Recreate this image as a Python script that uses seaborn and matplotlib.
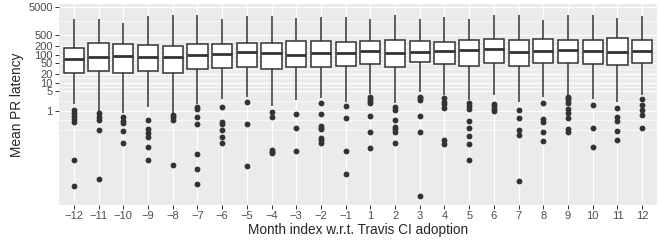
import matplotlib
matplotlib.use("Agg")
import matplotlib.pyplot as plt
import seaborn as sns
import pandas as pd
from matplotlib.ticker import FixedLocator, NullFormatter

# month index relative to Travis CI adoption
months = [-12, -11, -10, -9, -8, -7, -6, -5, -4, -3, -2, -1,
          1, 2, 3, 4, 5, 6, 7, 8, 9, 10, 11, 12]

# box statistics (latency, log scale)
whisker_high = [1840, 1880, 1320, 2470, 2620, 2620, 1880, 2470, 2410, 2000, 2280, 2280,
                1880, 2550, 1880, 2170, 1880, 2620, 2620, 1730, 2620, 2620, 2000, 2470]
q3 = [169, 268, 235, 222, 210, 247, 235, 262, 255, 308, 301, 291,
      301, 335, 308, 291, 335, 373, 335, 355, 335, 335, 405, 343]
median = [68.5, 81, 90, 85, 81, 100, 106, 128, 112, 97.5, 118, 112,
          136, 118, 125, 139, 147, 156, 128, 136, 144, 136, 128, 139]
q1 = [22.8, 26, 22.8, 26, 22.8, 30.8, 32.7, 37.3, 31.6, 36.4, 37.3, 39.5,
      45.4, 37.3, 53.5, 45.4, 40.5, 51.8, 39.5, 49.3, 51.8, 47.7, 42.9, 51.8]
whisker_low = [1.69, 0.92, 0.81, 1.39, 0.81, 1.7, 2.55, 3.16, 1.47, 2.41, 2.77, 2.1,
               3.85, 1.84, 4.77, 3.64, 2.41, 3.55, 2.1, 3.16, 3.64, 2.62, 2.1, 3.64]

outliers = [
    [1.06, 0.83, 0.65, 0.51, 0.40, 0.017, 0.002],
    [0.81, 0.61, 0.47, 0.20, 0.0035],
    [0.61, 0.44, 0.37, 0.19, 0.069],
    [0.47, 0.22, 0.156, 0.118, 0.052, 0.017],
    [0.70, 0.58, 0.47, 0.0112],
    [1.3, 1.15, 0.60, 0.335, 0.028, 0.0085, 0.0025],
    [1.36, 0.385, 0.335, 0.20, 0.118, 0.072],
    [2.1, 0.335, 0.0109],
    [0.88, 0.58, 0.039, 0.034, 0.030],
    [0.76, 0.24, 0.035],
    [1.93, 0.78, 0.29, 0.247, 0.217, 0.109, 0.09, 0.072],
    [1.51, 0.535, 0.035, 0.0056],
    [3.0, 2.55, 2.17, 1.84, 0.66, 0.178, 0.048],
    [1.39, 1.06, 0.47, 0.27, 0.217, 0.178, 0.069],
    [3.0, 2.73, 2.41, 0.66, 0.178, 0.00092],
    [2.77, 2.1, 1.73, 1.22, 0.09, 0.065],
    [1.93, 1.47, 1.12, 0.42, 0.235, 0.122, 0.066, 0.017],
    [1.73, 1.47, 1.18, 0.95],
    [1.03, 0.535, 0.21, 0.136, 0.0032],
    [1.84, 0.51, 0.40, 0.169, 0.081],
    [3.16, 2.73, 2.41, 1.84, 1.15, 0.85, 0.535, 0.22, 0.169],
    [1.6, 0.235, 0.05],
    [1.28, 0.61, 0.44, 0.19, 0.092],
    [2.55, 1.56, 1.06, 0.70, 0.24],
]

y_breaks = [1, 5, 10, 20, 50, 100, 200, 500, 5000]
y_minor = [0.2, 0.447, 2.236, 7.07, 14.14, 31.6, 70.7, 141, 316, 1581]

labels = [str(m).replace("-", "\u2212") for m in months]

# five values per month -> percentiles 0/25/50/75/100 hit the stats exactly
box_rows = []
for lab, lo, a, m, b, hi in zip(labels, whisker_low, q1, median, q3, whisker_high):
    for v in (lo, a, m, b, hi):
        box_rows.append((lab, v))
box_df = pd.DataFrame(box_rows, columns=["month", "latency"])

out_rows = [(lab, v) for lab, vals in zip(labels, outliers) for v in vals]
out_df = pd.DataFrame(out_rows, columns=["month", "latency"])

sns.set_theme(style="darkgrid")
plt.rcParams["font.family"] = ["Liberation Sans", "DejaVu Sans"]

fig = plt.figure(figsize=(6.59, 2.47), dpi=100)
ax = fig.add_axes([0.0895, 0.17, 0.9075, 0.814])
ax.set_facecolor("#EBEBEB")

sns.boxplot(data=box_df, x="month", y="latency", order=labels, whis=(0, 100),
            showfliers=False, showcaps=False, width=0.82, color="white",
            linecolor="#333333", linewidth=1.1, medianprops={"linewidth": 2.0},
            log_scale=True, ax=ax)
sns.stripplot(data=out_df, x="month", y="latency", order=labels, jitter=False,
              color="#333333", size=4.2, linewidth=0, ax=ax)

ax.set_ylim(10 ** -3.368, 10 ** 3.81)
ax.set_xlim(-0.6, len(labels) - 0.4)
ax.yaxis.set_major_locator(FixedLocator(y_breaks))
ax.set_yticklabels([str(b) for b in y_breaks])
ax.yaxis.set_minor_locator(FixedLocator(y_minor))
ax.yaxis.set_minor_formatter(NullFormatter())

ax.grid(which="major", color="white", linewidth=0.9)
ax.grid(which="minor", axis="y", color="white", linewidth=0.45)
ax.set_axisbelow(True)
for s in ax.spines.values():
    s.set_visible(False)

ax.tick_params(axis="both", which="major", left=True, bottom=True, length=3,
               width=0.7, color="#333333", labelcolor="#4D4D4D", labelsize=8, pad=1.5)
ax.tick_params(axis="y", which="minor", left=False, length=0)

ax.set_xlabel("Month index w.r.t. Travis CI adoption", fontsize=9.8, labelpad=1.5)
ax.set_ylabel("Mean PR latency", fontsize=9.8, labelpad=3)

fig.savefig("out.png", dpi=100)
plt.close(fig)
